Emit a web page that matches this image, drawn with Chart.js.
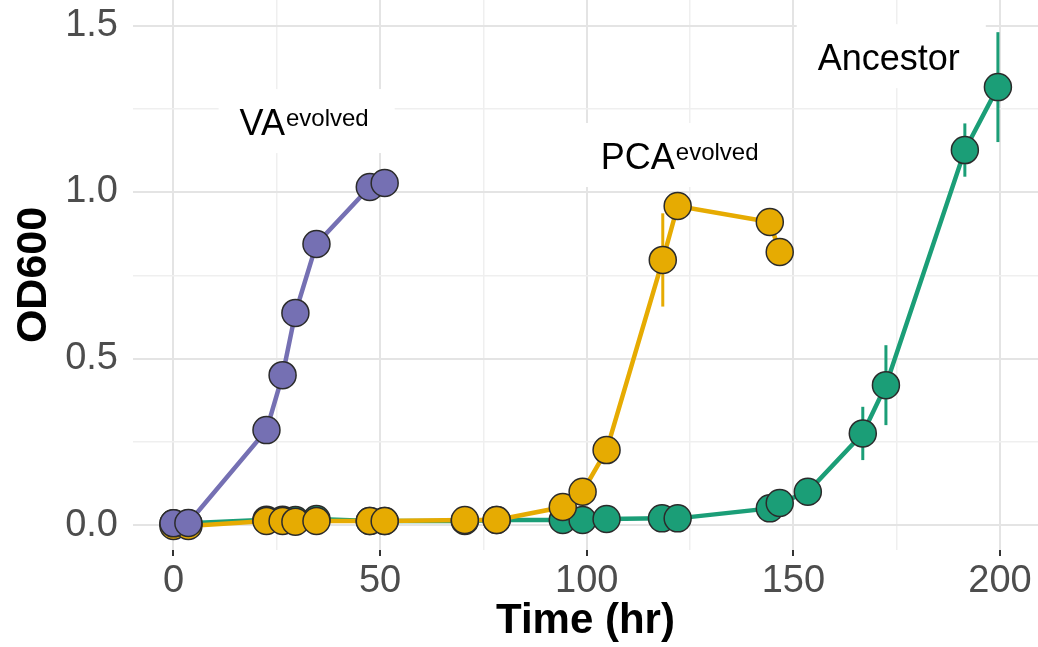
<!DOCTYPE html>
<html>
<head>
<meta charset="utf-8">
<script src="https://cdn.jsdelivr.net/npm/chart.js@4"></script>
<style>
  body { margin: 0; background: #fff; }
  #wrap { width: 1038px; height: 647px; }
</style>
</head>
<body>
<div id="wrap"><canvas id="growth" width="1038" height="647"></canvas></div>
<script>
// Growth curves - OD600 over time
const vaTime = [0, 3.6, 22.5, 26.4, 29.5, 34.6, 47.5, 51.1];
const vaOD   = [0.005, 0.006, 0.285, 0.45, 0.637, 0.844, 1.015, 1.027];
const vaErr  = [0, 0, 0, 0, 0, 0.02, 0, 0];

const pcaTime = [0, 3.6, 22.5, 26.4, 29.5, 34.6, 47.5, 51.1, 70.5, 78.2, 94.2, 99, 104.8, 118.4, 122, 144.3, 146.7];
const pcaOD   = [-0.003, -0.003, 0.012, 0.012, 0.01, 0.012, 0.012, 0.012, 0.015, 0.015, 0.054, 0.1, 0.225, 0.796, 0.958, 0.91, 0.82];
const pcaErr  = [0, 0, 0, 0, 0, 0, 0, 0, 0, 0, 0, 0, 0, 0.14, 0.02, 0, 0];

const ancTime = [0, 3.6, 22.5, 26.4, 29.5, 34.6, 47.5, 51.1, 70.5, 78.2, 94.2, 99, 104.8, 118.2, 122, 144.3, 146.7, 153.5, 166.8, 172.4, 191.5, 199.5];
const ancOD   = [0.005, 0.005, 0.016, 0.016, 0.015, 0.018, 0.012, 0.012, 0.012, 0.015, 0.015, 0.015, 0.018, 0.02, 0.02, 0.05, 0.066, 0.1, 0.275, 0.42, 1.126, 1.315];
const ancErr  = [0, 0, 0, 0, 0, 0, 0, 0, 0, 0, 0, 0, 0, 0, 0, 0, 0, 0, 0.08, 0.12, 0.08, 0.165];

const yTicks = [0, 0.5, 1.0, 1.5];
const xTicks = [0, 50, 100, 150, 200];

// strain labels: main text, superscript, anchor (time, OD) of text start / baseline
const labelMain = ['VA', 'PCA', 'Ancestor'];
const labelSup  = ['evolved', 'evolved', ''];
const labelX    = [16.0, 103.4, 155.9];
const labelY    = [1.171, 1.069, 1.366];

const PURPLE = '#7570b3', YELLOW = '#e6ab02', GREEN = '#1b9e77';
const FONT = '"Liberation Sans", Arial, Helvetica, sans-serif';

const toXY = (t, v) => t.map((x, i) => ({ x: x, y: v[i] }));

function pointSet(t, v, col) {
    return { data: toXY(t, v), showLine: false, pointRadius: 13.5, pointBackgroundColor: col,
             pointBorderColor: '#2b2b2b', pointBorderWidth: 1.5 };
}
function lineSet(t, v, col) {
    return { data: toXY(t, v), borderColor: col, borderWidth: 4.5, pointRadius: 0, tension: 0 };
}

// white label boxes + error bars, under the marks
const decorPlugin = {
    id: 'decor',
    beforeDatasetsDraw(chart) {
        const { ctx, scales: { x, y } } = chart;
        ctx.save();
        labelMain.forEach((txt, i) => {
            const px = x.getPixelForValue(labelX[i]);
            const base = y.getPixelForValue(labelY[i]);
            ctx.font = '36px ' + FONT;
            const w1 = ctx.measureText(txt).width;
            ctx.font = '24px ' + FONT;
            const w2 = labelSup[i] ? ctx.measureText(labelSup[i]).width + 1 : 0;
            ctx.fillStyle = '#fff';
            ctx.fillRect(px - 21, base - 46, w1 + w2 + 47, 64);
            ctx.fillStyle = '#000';
            ctx.textBaseline = 'alphabetic';
            ctx.textAlign = 'left';
            ctx.font = '36px ' + FONT;
            ctx.fillText(txt, px, base);
            if (labelSup[i]) {
                ctx.font = '24px ' + FONT;
                ctx.fillText(labelSup[i], px + w1 + 1, base - 9);
            }
        });
        const bars = [[ancTime, ancOD, ancErr, GREEN], [pcaTime, pcaOD, pcaErr, YELLOW], [vaTime, vaOD, vaErr, PURPLE]];
        ctx.lineWidth = 3;
        bars.forEach(([t, v, e, col]) => {
            ctx.strokeStyle = col;
            t.forEach((tt, i) => {
                if (!e[i]) return;
                const px = x.getPixelForValue(tt);
                ctx.beginPath();
                ctx.moveTo(px, y.getPixelForValue(v[i] - e[i]));
                ctx.lineTo(px, y.getPixelForValue(v[i] + e[i]));
                ctx.stroke();
            });
        });
        ctx.restore();
    }
};

new Chart(document.getElementById('growth'), {
    type: 'line',
    data: {
        datasets: [
            pointSet(vaTime, vaOD, PURPLE),
            pointSet(pcaTime, pcaOD, YELLOW),
            pointSet(ancTime, ancOD, GREEN),
            lineSet(vaTime, vaOD, PURPLE),
            lineSet(pcaTime, pcaOD, YELLOW),
            lineSet(ancTime, ancOD, GREEN)
        ]
    },
    options: {
        responsive: false,
        animation: false,
        layout: { padding: 0, autoPadding: false },
        plugins: { legend: { display: false }, tooltip: { enabled: false } },
        scales: {
            x: {
                type: 'linear', min: -9.8, max: 209.2,
                border: { display: false },
                grid: {
                    color: c => xTicks.includes(c.tick.value) ? '#e4e4e4' : '#efefef',
                    lineWidth: c => xTicks.includes(c.tick.value) ? 2 : 1.5,
                    tickColor: c => xTicks.includes(c.tick.value) ? '#333' : 'rgba(0,0,0,0)',
                    tickLength: 6, tickWidth: 2
                },
                ticks: {
                    stepSize: 25, includeBounds: false, autoSkip: false, maxRotation: 0, padding: 3,
                    color: '#4d4d4d', font: { family: FONT, size: 38 },
                    callback: v => xTicks.includes(v) ? String(v) : ''
                },
                title: { display: true, text: 'Time (hr)', color: '#000',
                         font: { family: FONT, size: 42, weight: 'bold' }, padding: { top: 0, bottom: 0 } },
                afterFit(s) { s.height = 97; s.paddingLeft = 0; s.paddingRight = 0; }
            },
            y: {
                type: 'linear', min: -0.075, max: 1.5766,
                border: { display: false },
                grid: {
                    color: c => yTicks.some(t => Math.abs(t - c.tick.value) < 1e-6) ? '#e4e4e4' : '#efefef',
                    lineWidth: c => yTicks.some(t => Math.abs(t - c.tick.value) < 1e-6) ? 2 : 1.5,
                    drawTicks: false
                },
                ticks: {
                    stepSize: 0.25, includeBounds: false, autoSkip: false, padding: 15,
                    color: '#4d4d4d', font: { family: FONT, size: 38 },
                    callback: v => yTicks.some(t => Math.abs(t - v) < 1e-6) ? v.toFixed(1) : ''
                },
                title: { display: true, text: 'OD600', color: '#000',
                         font: { family: FONT, size: 43, weight: 'bold' }, padding: { top: 8, bottom: 0 } },
                afterFit(s) { s.width = 133; s.paddingTop = 0; s.paddingBottom = 0; }
            }
        }
    },
    plugins: [decorPlugin]
});
</script>
</body>
</html>
